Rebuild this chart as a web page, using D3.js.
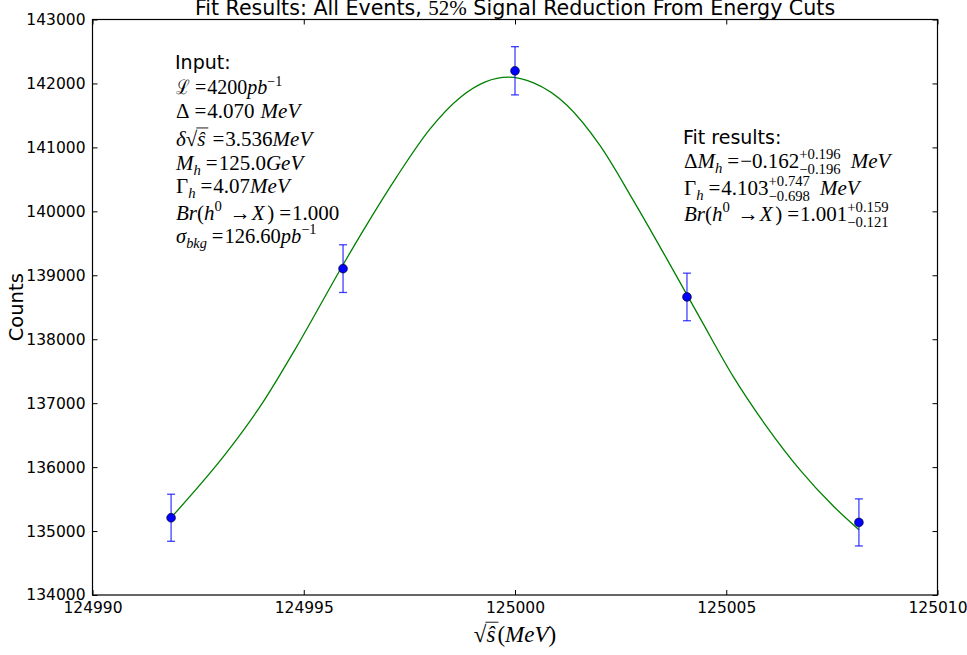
<!DOCTYPE html>
<html><head><meta charset="utf-8">
<script src="https://cdn.jsdelivr.net/npm/d3@7"></script>
<style>
html,body{margin:0;padding:0;background:#fff;}
svg{display:block;}
</style></head>
<body>
<svg id="chart" width="967" height="655"></svg>
<script>
// ---- data ----
const xTicks = [124990, 124995, 125000, 125005, 125010];
const yTicks = [134000, 135000, 136000, 137000, 138000, 139000, 140000, 141000, 142000, 143000];
const pointX = [124991.86, 124995.93, 125000.00, 125004.07, 125008.14];
const pointY = [135208, 139104, 142198, 138661, 135135];
const pointErr = [368, 373, 377, 372, 368];
const fitX = [124991.86, 124993.25, 124994.04, 124994.83, 124995.90, 124996.41, 124997.20, 124997.99, 124998.71, 124999.30, 124999.84, 125000.44, 125001.23, 125002.01, 125002.80, 125003.59, 125004.38, 125005.17, 125005.96, 125006.75, 125007.55, 125008.14];
const fitY = [135210, 136292, 137020, 137880, 139130, 139703, 140540, 141290, 141785, 142025, 142098, 142010, 141660, 141031, 140172, 139261, 138330, 137411, 136630, 135953, 135380, 135020];
const titleParts = ["Fit Results: All Events, ", "52%", " Signal Reduction From Energy Cuts"];
const xLabelText = "MeV";
const yLabelText = "Counts";

// ---- layout ----
const svg = d3.select("#chart");
const L = 92.5, R = 937.5, T = 19.5, B = 595;
const x = d3.scaleLinear().domain([124990, 125010]).range([L, R]);
const y = d3.scaleLinear().domain([134000, 143000]).range([B, T]);
const SANS = "'DejaVu Sans', sans-serif";
const SERIF = "'Liberation Serif', 'DejaVu Serif', serif";

// fit curve
svg.append("path")
  .datum(fitX.map((v, i) => [v, fitY[i]]))
  .attr("fill", "none").attr("stroke", "#008000").attr("stroke-width", 1.3)
  .attr("d", d3.line().x(d => x(d[0])).y(d => y(d[1])).curve(d3.curveMonotoneX));

// error bars
const eb = svg.append("g").attr("stroke", "rgba(0,0,255,0.75)").attr("stroke-width", 1.3);
pointX.forEach((px, i) => {
  const cx = x(px), y1 = y(pointY[i] + pointErr[i]), y2 = y(pointY[i] - pointErr[i]);
  eb.append("line").attr("x1", cx).attr("x2", cx).attr("y1", y1).attr("y2", y2);
  eb.append("line").attr("x1", cx - 4).attr("x2", cx + 4).attr("y1", y1).attr("y2", y1);
  eb.append("line").attr("x1", cx - 4).attr("x2", cx + 4).attr("y1", y2).attr("y2", y2);
});
svg.append("g").selectAll("circle").data(pointX).join("circle")
  .attr("cx", d => x(d)).attr("cy", (d, i) => y(pointY[i])).attr("r", 4.4)
  .attr("fill", "#0000ff").attr("stroke", "#000").attr("stroke-width", 0.6);

// frame
svg.append("rect").attr("x", L).attr("y", T).attr("width", R - L).attr("height", B - T)
  .attr("fill", "none").attr("stroke", "#000").attr("stroke-width", 1.2);

// axes (inward ticks)
const ax = svg.append("g").attr("transform", `translate(0,${B})`)
  .call(d3.axisBottom(x).tickValues(xTicks).tickSize(-5).tickPadding(7).tickFormat(d3.format("d")));
const axT = svg.append("g").attr("transform", `translate(0,${T})`)
  .call(d3.axisTop(x).tickValues(xTicks).tickSize(-5).tickFormat(""));
const ay = svg.append("g").attr("transform", `translate(${L},0)`)
  .call(d3.axisLeft(y).tickValues(yTicks).tickSize(-5).tickPadding(7).tickFormat(d3.format("d")));
const ayR = svg.append("g").attr("transform", `translate(${R},0)`)
  .call(d3.axisRight(y).tickValues(yTicks).tickSize(-5).tickFormat(""));
[ax, axT, ay, ayR].forEach(g => {
  g.select(".domain").remove();
  g.selectAll(".tick line").attr("stroke", "#000");
  g.selectAll("text").attr("font-family", SANS).attr("font-size", 15.5).attr("fill", "#000");
});
ax.selectAll("text").attr("dy", "0.71em");

// title
const title = svg.append("text").attr("x", (L + R) / 2).attr("y", 15)
  .attr("text-anchor", "middle").attr("font-family", SANS).attr("font-size", 20.6).attr("fill", "#000");
title.append("tspan").text(titleParts[0]);
title.append("tspan").attr("font-family", SERIF).attr("font-size", 21).text(titleParts[1]);
title.append("tspan").text(titleParts[2]);

// y label
svg.append("text").attr("transform", `translate(23,${(T + B) / 2}) rotate(-90)`)
  .attr("text-anchor", "middle").attr("font-family", SANS).attr("font-size", 19.5).text(yLabelText);

// math text helper
function mathLine(parent, x0, y0, pieces, size) {
  const g = parent.append("g");
  let cx = x0;
  pieces.forEach(p => {
    const [t, kind] = p;
    if (kind === "gap") { cx += p[2]; return; }
    if (kind === "stack") {
      const s = size * 0.7;
      const a = g.append("text").attr("x", cx).attr("y", y0 - size * 0.42).attr("font-family", SERIF).attr("font-size", s).text(p[2]);
      const b = g.append("text").attr("x", cx).attr("y", y0 + size * 0.3).attr("font-family", SERIF).attr("font-size", s).text(p[3]);
      cx += Math.max(a.node().getComputedTextLength(), b.node().getComputedTextLength());
      return;
    }
    let s = size, dy = 0, it = false;
    if (kind === "i") it = true;
    if (kind === "sub" || kind === "subi") { s = size * 0.7; dy = size * 0.22; it = kind === "subi"; }
    if (kind === "sup" || kind === "supi") { s = size * 0.7; dy = -size * 0.42; it = kind === "supi"; }
    if (kind === "rel") cx += 5;
    const el = g.append("text").attr("x", cx).attr("y", y0 + dy).attr("font-family", SERIF)
      .attr("font-size", s).attr("font-style", it ? "italic" : "normal").attr("fill", "#000").text(t);
    if (kind === "fit") el.attr("textLength", p[2]).attr("lengthAdjust", "spacingAndGlyphs");
    const w = kind === "fit" ? p[2] : el.node().getComputedTextLength();
    if (kind === "rad") {
      g.append("line").attr("x1", cx + w - 1).attr("x2", cx + w + p[2]).attr("y1", y0 - size * 0.86).attr("y2", y0 - size * 0.86)
        .attr("stroke", "#000").attr("stroke-width", 0.9);
    }
    cx += w + (kind === "rel" ? 1 : 0) + (kind === "fit" ? 0 : (p[3] || 0));
  });
  return g;
}

const MS = 21;
// Input block
svg.append("text").attr("x", 175).attr("y", 69).attr("font-family", SANS).attr("font-size", 19).text("Input:");
mathLine(svg, 176, 94, [["ℒ", "fit", 14], ["=", "rel"], ["4200", "r"], ["pb", "i"], ["−1", "sup"]], 20);
mathLine(svg, 176, 118, [["Δ", "r"], ["=", "rel"], ["4.070", "r"], ["", "gap", 6], ["MeV", "i"]], MS);
mathLine(svg, 176, 146, [["δ", "i"], ["√", "rad", 11], ["ŝ", "i", null, 2], ["=", "rel"], ["3.536", "r"], ["MeV", "i"]], MS);
mathLine(svg, 176, 170, [["M", "i"], ["h", "subi"], ["=", "rel"], ["125.0", "r"], ["GeV", "i"]], MS);
mathLine(svg, 176, 193, [["Γ", "r"], ["h", "subi"], ["=", "rel"], ["4.07", "r"], ["MeV", "i"]], MS);
mathLine(svg, 176, 220, [["Br", "i"], ["(", "r"], ["h", "i"], ["0", "sup"], ["", "gap", 3], ["→", "rel"], ["X", "i"], ["", "gap", 2.5], [")", "r"], ["=", "rel"], ["1.000", "r"]], MS);
mathLine(svg, 176, 243, [["σ", "i"], ["bkg", "subi"], ["=", "rel"], ["126.60", "r"], ["pb", "i"], ["−1", "sup"]], 20.5);

// Fit results block
svg.append("text").attr("x", 683).attr("y", 144).attr("font-family", SANS).attr("font-size", 19).text("Fit results:");
mathLine(svg, 684, 168, [["Δ", "r"], ["M", "i"], ["h", "subi"], ["=", "rel"], ["−0.162", "r"], ["", "stack", "+0.196", "−0.196"], ["", "gap", 10], ["MeV", "i"]], MS);
mathLine(svg, 684, 195, [["Γ", "r"], ["h", "subi"], ["=", "rel"], ["4.103", "r"], ["", "stack", "+0.747", "−0.698"], ["", "gap", 10], ["MeV", "i"]], MS);
mathLine(svg, 684, 221, [["Br", "i"], ["(", "r"], ["h", "i"], ["0", "sup"], ["", "gap", 3], ["→", "rel"], ["X", "i"], ["", "gap", 2.5], [")", "r"], ["=", "rel"], ["1.001", "r"], ["", "stack", "+0.159", "−0.121"]], MS);

// x label
const xl = mathLine(svg, 0, 642, [["√", "rad", 12], ["ŝ", "i", null, 2], ["(", "r"], [xLabelText, "i"], [")", "r"]], 23);
const bb = xl.node().getBBox();
xl.attr("transform", `translate(${(L + R) / 2 - bb.width / 2 - bb.x},0)`);
</script>
</body></html>
